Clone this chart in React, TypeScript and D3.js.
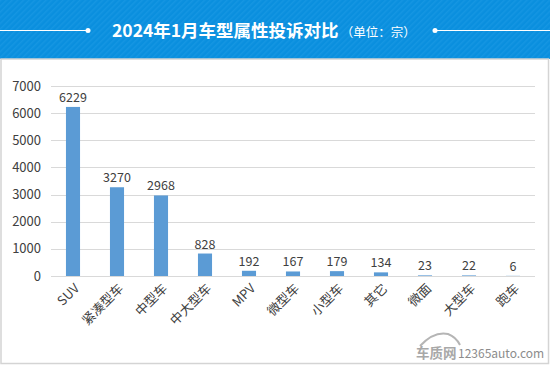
import React, { useEffect, useRef } from 'react';
import * as d3 from 'd3';

const categories = ['SUV', '紧凑型车', '中型车', '中大型车', 'MPV', '微型车', '小型车', '其它', '微面', '大型车', '跑车'];
const complaints = [6229, 3270, 2968, 828, 192, 167, 179, 134, 23, 22, 6];
const yTicks = [0, 1000, 2000, 3000, 4000, 5000, 6000, 7000];

const FONT = '"Microsoft YaHei", "Noto Sans CJK SC", "Noto Sans", sans-serif';

const App = () => {
  const svgRef = useRef<SVGSVGElement>(null);

  useEffect(() => {
    const width = 550;
    const height = 365;
    const margin = { left: 51, right: 15, top: 86, bottom: 89 };

    const svg = d3.select(svgRef.current);
    svg.selectAll('*').remove();
    svg.attr('width', width).attr('height', height);

    // header band with diagonal stripes
    const defs = svg.append('defs');
    const pat = defs.append('pattern')
      .attr('id', 'stripes')
      .attr('width', 4)
      .attr('height', 4)
      .attr('patternUnits', 'userSpaceOnUse')
      .attr('patternTransform', 'rotate(-45)');
    pat.append('rect').attr('width', 4).attr('height', 4).attr('fill', '#0a8fde');
    pat.append('rect').attr('width', 4).attr('height', 1.5).attr('fill', '#1596e2');

    svg.append('rect').attr('x', 0).attr('y', 0).attr('width', width).attr('height', 59).attr('fill', 'url(#stripes)');

    // panel border
    svg.append('rect')
      .attr('x', 1).attr('y', 59).attr('width', 547.5).attr('height', 304.5)
      .attr('fill', '#fff').attr('stroke', '#d4d4d4').attr('stroke-width', 1.5);

    // title decoration
    svg.append('line').attr('x1', 0).attr('x2', 88).attr('y1', 30.5).attr('y2', 30.5).attr('stroke', '#fff').attr('stroke-width', 1);
    svg.append('circle').attr('cx', 88).attr('cy', 30.5).attr('r', 2.5).attr('fill', '#fff');
    svg.append('line').attr('x1', 435).attr('x2', 550).attr('y1', 30.5).attr('y2', 30.5).attr('stroke', '#fff').attr('stroke-width', 1);
    svg.append('circle').attr('cx', 435).attr('cy', 30.5).attr('r', 2.5).attr('fill', '#fff');

    const title = svg.append('text')
      .attr('x', 112).attr('y', 36.5)
      .attr('fill', '#fff')
      .style('font-family', FONT);
    title.append('tspan').text('2024年1月车型属性投诉对比')
      .style('font-size', '17.5px').style('font-weight', 'bold');
    title.append('tspan').text('（单位：宗）')
      .style('font-size', '12.5px').attr('dx', 2);

    const x = d3.scaleBand<string>()
      .domain(categories)
      .range([margin.left, width - margin.right])
      .paddingInner(0.68)
      .paddingOuter(0.34);

    const y = d3.scaleLinear()
      .domain([0, 7000])
      .range([height - margin.bottom, margin.top]);

    const g = svg.append('g');

    // gridlines
    g.selectAll('.grid')
      .data(yTicks)
      .enter().append('line')
      .attr('x1', margin.left)
      .attr('x2', width - margin.right)
      .attr('y1', d => Math.round(y(d)) + 0.5)
      .attr('y2', d => Math.round(y(d)) + 0.5)
      .attr('stroke', '#d9d9d9')
      .attr('stroke-width', 1);

    // y labels
    g.selectAll('.ylab')
      .data(yTicks)
      .enter().append('text')
      .attr('x', 41)
      .attr('y', d => y(d))
      .attr('dy', '0.35em')
      .attr('text-anchor', 'end')
      .attr('fill', '#404040')
      .style('font-family', FONT)
      .style('font-size', '13px')
      .text(d => d);

    // bars
    g.selectAll('.bar')
      .data(complaints)
      .enter().append('rect')
      .attr('x', (d, i) => x(categories[i])!)
      .attr('width', x.bandwidth())
      .attr('y', d => y(d))
      .attr('height', d => y(0) - y(d))
      .attr('fill', '#5b9bd5');

    // value labels
    g.selectAll('.val')
      .data(complaints)
      .enter().append('text')
      .attr('x', (d, i) => x(categories[i])! + x.bandwidth() / 2)
      .attr('y', d => y(d) - 5)
      .attr('text-anchor', 'middle')
      .attr('fill', '#404040')
      .style('font-family', FONT)
      .style('font-size', '12.5px')
      .text(d => d);

    // category labels, rotated
    g.selectAll('.xlab')
      .data(categories)
      .enter().append('text')
      .attr('transform', d => `translate(${x(d)! + x.bandwidth() / 2 + 4},${y(0) + 10}) rotate(-45)`)
      .attr('text-anchor', 'end')
      .attr('dy', '0.35em')
      .attr('fill', '#404040')
      .style('font-family', FONT)
      .style('font-size', '13px')
      .text(d => d);

    // watermark
    svg.append('path')
      .attr('d', 'M420,346 Q434,331 448,334 Q456,337 460,345')
      .attr('fill', 'none').attr('stroke', '#b5b5b5').attr('stroke-width', 2);
    svg.append('text')
      .attr('x', 416).attr('y', 358)
      .attr('fill', '#a8a8a8')
      .style('font-family', FONT)
      .style('font-size', '13.5px')
      .style('font-weight', 'bold')
      .text('车质网');
    svg.append('text')
      .attr('x', 458).attr('y', 358)
      .attr('fill', '#8c8c8c')
      .style('font-family', FONT)
      .style('font-size', '12px')
      .text('12365auto.com');
  }, []);

  return (
    <svg ref={svgRef} style={{ position: 'absolute', left: 0, top: 0 }}></svg>
  );
};

export default App;
